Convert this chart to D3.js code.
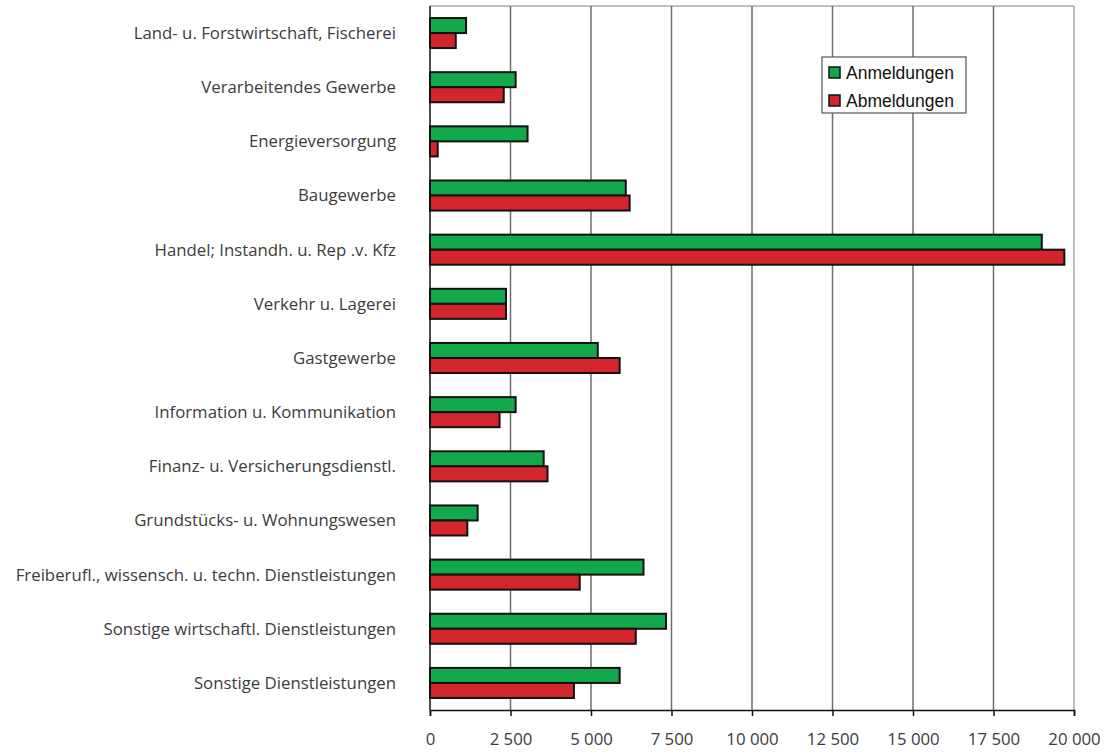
<!DOCTYPE html>
<html lang="de">
<head>
  <meta charset="UTF-8">
  <title>Gewerbean- und -abmeldungen</title>
  <script src="https://d3js.org/d3.v7.min.js"></script>
  <style>
    html, body { margin: 0; padding: 0; background: #fff; }
    .cat text, .xaxis text { font-family: "Open Sans", sans-serif; font-size: 16.8px; fill: #3c3c3c; }
    .legend text { font-family: "Liberation Sans", Arial, sans-serif; font-size: 17.5px; fill: #111; }
  </style>
</head>
<body>
  <svg id="chart" width="1109" height="753"></svg>
  <script>
    const categories = [
      'Land- u. Forstwirtschaft, Fischerei',
      'Verarbeitendes Gewerbe',
      'Energieversorgung',
      'Baugewerbe',
      'Handel; Instandh. u. Rep .v. Kfz',
      'Verkehr u. Lagerei',
      'Gastgewerbe',
      'Information u. Kommunikation',
      'Finanz- u. Versicherungsdienstl.',
      'Grundstücks- u. Wohnungswesen',
      'Freiberufl., wissensch. u. techn. Dienstleistungen',
      'Sonstige wirtschaftl. Dienstleistungen',
      'Sonstige Dienstleistungen'
    ];
    const anmeldungen = [1120, 2660, 3030, 6080, 19000, 2360, 5210, 2660, 3530, 1480, 6630, 7330, 5890];
    const abmeldungen = [800, 2290, 240, 6200, 19700, 2360, 5890, 2160, 3650, 1160, 4650, 6390, 4470];
    const seriesNames = ['Anmeldungen', 'Abmeldungen'];
    const seriesColors = ['#13a84b', '#d3252c'];
    const xTicks = [0, 2500, 5000, 7500, 10000, 12500, 15000, 17500, 20000];

    const svg = d3.select('#chart');
    const plot = { left: 430, right: 1074, top: 6, bottom: 710 };

    const x = d3.scaleLinear().domain([0, 20000]).range([plot.left, plot.right]);
    const y = d3.scaleBand().domain(categories).range([plot.top, plot.bottom]).paddingInner(0.445).paddingOuter(0.222);
    const sub = d3.scaleBand().domain(seriesNames).range([0, y.bandwidth()]);

    // frame: top border
    svg.append('line').attr('x1', plot.left).attr('x2', plot.right).attr('y1', plot.top).attr('y2', plot.top)
      .attr('stroke', '#a3abb8').attr('stroke-width', 1.5);

    // vertical grid lines
    svg.append('g').selectAll('line')
      .data(xTicks.slice(1))
      .join('line')
      .attr('x1', d => x(d)).attr('x2', d => x(d))
      .attr('y1', plot.top).attr('y2', plot.bottom)
      .attr('stroke', d => d === 20000 ? '#a3abb8' : '#6e6e6e')
      .attr('stroke-width', 1.5);

    // bars
    const rows = categories.map((c, i) => ({ c, vals: [anmeldungen[i], abmeldungen[i]] }));
    const grp = svg.append('g').selectAll('g')
      .data(rows)
      .join('g')
      .attr('transform', d => `translate(0,${y(d.c)})`);

    grp.selectAll('rect')
      .data(d => d.vals.map((v, k) => ({ v, k })))
      .join('rect')
      .attr('x', x(0))
      .attr('y', d => sub(seriesNames[d.k]))
      .attr('width', d => x(d.v) - x(0))
      .attr('height', sub.bandwidth())
      .attr('fill', d => seriesColors[d.k])
      .attr('stroke', '#111')
      .attr('stroke-width', 2);

    // left axis line
    svg.append('line').attr('x1', plot.left).attr('x2', plot.left).attr('y1', plot.top).attr('y2', plot.bottom)
      .attr('stroke', '#111').attr('stroke-width', 1.5);

    // category labels
    svg.append('g').attr('class', 'cat').selectAll('text')
      .data(categories)
      .join('text')
      .attr('x', 396)
      .attr('y', d => y(d) + y.bandwidth() / 2)
      .attr('dy', '0.35em')
      .attr('text-anchor', 'end')
      .text(d => d);

    // x axis
    const xAxis = d3.axisBottom(x).tickValues(xTicks).tickSize(6).tickPadding(17)
      .tickFormat(d => d3.format(',')(d).replace(/,/g, ' '));
    const ax = svg.append('g').attr('class', 'xaxis')
      .attr('transform', `translate(0,${plot.bottom})`)
      .call(xAxis);
    ax.select('.domain').attr('stroke', '#111').attr('stroke-width', 1.5);
    ax.selectAll('.tick line').attr('stroke', '#111').attr('stroke-width', 1.5);
    ax.attr('font-family', null).attr('font-size', null);

    // legend
    const lg = svg.append('g').attr('class', 'legend').attr('transform', 'translate(822,57)');
    lg.append('rect').attr('width', 144).attr('height', 56)
      .attr('fill', '#fff').attr('stroke', '#555').attr('stroke-width', 1.2);
    const item = lg.selectAll('g.item')
      .data(seriesNames)
      .join('g')
      .attr('class', 'item')
      .attr('transform', (d, i) => `translate(7,${10 + i * 28})`);
    item.append('rect').attr('width', 11).attr('height', 11)
      .attr('fill', (d, i) => seriesColors[i]).attr('stroke', '#111').attr('stroke-width', 1.5);
    item.append('text').attr('x', 17).attr('y', 5.5).attr('dy', '0.36em').text(d => d);
  </script>
</body>
</html>
